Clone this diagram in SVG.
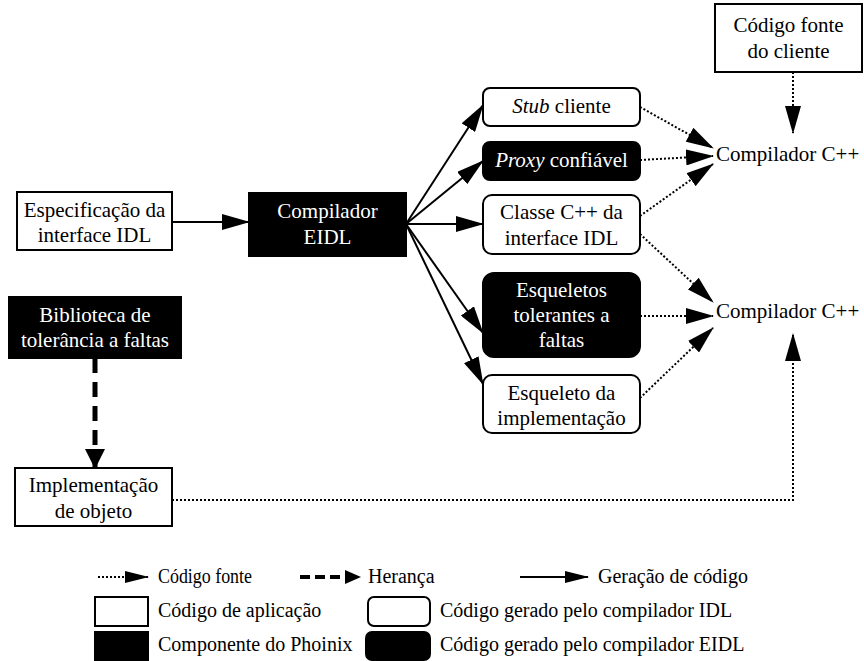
<svg xmlns="http://www.w3.org/2000/svg" width="864" height="661" viewBox="0 0 864 661">
  <style>
    text { font-family: "Liberation Serif", "DejaVu Serif", "Times New Roman", serif; font-size: 21px; fill: #000; }
    .c { text-anchor: middle; }
    .w { fill: #fff; }
    .lg { font-size: 20px; }
    .box { fill: #fff; stroke: #000; stroke-width: 2; }
    .dark { fill: #000; stroke: #000; stroke-width: 2; }
    .gen { fill: none; stroke: #000; stroke-width: 2; }
    .src { fill: none; stroke: #000; stroke-width: 2; stroke-dasharray: 2 2; }
    .inh { fill: none; stroke: #000; stroke-width: 5; stroke-dasharray: 15 9; }
  </style>
  <defs>
    <marker id="ah" markerUnits="userSpaceOnUse" markerWidth="28" markerHeight="16" refX="27" refY="8" orient="auto">
      <path d="M0,0 L28,8 L0,16 z" fill="#000"/>
    </marker>
    <marker id="ahi" markerUnits="userSpaceOnUse" markerWidth="20" markerHeight="20" refX="19" refY="10" orient="auto">
      <path d="M0,0 L20,10 L0,20 z" fill="#000"/>
    </marker>
    <marker id="ahs" markerUnits="userSpaceOnUse" markerWidth="24" markerHeight="12" refX="23" refY="6" orient="auto">
      <path d="M0,0 L24,6 L0,12 z" fill="#000"/>
    </marker>
    <marker id="ahd" markerUnits="userSpaceOnUse" markerWidth="16" markerHeight="14" refX="15" refY="7" orient="auto">
      <path d="M0,0 L16,7 L0,14 z" fill="#000"/>
    </marker>
  </defs>

  <!-- connectors -->
  <g id="connectors">
    <path class="gen" d="M172,222 H249" marker-end="url(#ah)"/>
    <path class="gen" d="M406,224 L483,105" marker-end="url(#ah)"/>
    <path class="gen" d="M406,224 L483,161" marker-end="url(#ah)"/>
    <path class="gen" d="M406,224 H483" marker-end="url(#ah)"/>
    <path class="gen" d="M406,224 L483,333" marker-end="url(#ah)"/>
    <path class="gen" d="M406,224 L483,384" marker-end="url(#ah)"/>

    <path class="src" d="M640,107 L713,148" marker-end="url(#ah)"/>
    <path class="src" d="M640,160 L713,156" marker-end="url(#ah)"/>
    <path class="src" d="M640,216 L713,164" marker-end="url(#ah)"/>
    <path class="src" d="M640,234 L713,302" marker-end="url(#ah)"/>
    <path class="src" d="M640,316 L713,316" marker-end="url(#ah)"/>
    <path class="src" d="M640,398 L713,328" marker-end="url(#ah)"/>
    <path class="src" d="M793,72 V133" marker-end="url(#ah)"/>
    <path class="src" d="M172,500 H793 V334" marker-end="url(#ah)"/>

    <path class="inh" d="M95,358 V468" marker-end="url(#ahi)"/>
  </g>

  <!-- application code -->
  <g id="spec">
    <rect class="box" x="17" y="192" width="155" height="58"/>
    <text class="c" x="94.5" y="217">Especificação da</text>
    <text class="c" x="94.5" y="242">interface IDL</text>
  </g>
  <g id="impl">
    <rect class="box" x="15" y="468" width="157" height="58"/>
    <text class="c" x="93.5" y="492">Implementação</text>
    <text class="c" x="93.5" y="518">de objeto</text>
  </g>
  <g id="clientsrc">
    <rect class="box" x="715" y="4" width="147" height="68"/>
    <text class="c" x="788.5" y="32">Código fonte</text>
    <text class="c" x="788.5" y="58">do cliente</text>
  </g>

  <!-- Phoinix components -->
  <g id="eidl">
    <rect class="dark" x="249" y="193" width="157" height="63"/>
    <text class="c w" x="327.5" y="218">Compilador</text>
    <text class="c w" x="327.5" y="244">EIDL</text>
  </g>
  <g id="lib">
    <rect class="dark" x="9" y="297" width="172" height="61"/>
    <text class="c w" x="95" y="322">Biblioteca de</text>
    <text class="c w" x="95" y="347">tolerância a faltas</text>
  </g>

  <!-- IDL-generated code -->
  <g id="stub">
    <rect class="box" x="483" y="88" width="157" height="38" rx="7"/>
    <text class="c" x="561.5" y="113"><tspan font-style="italic">Stub</tspan> cliente</text>
  </g>
  <g id="cppclass">
    <rect class="box" x="483" y="195" width="157" height="59" rx="9"/>
    <text class="c" x="561.5" y="219">Classe C++ da</text>
    <text class="c" x="561.5" y="245">interface IDL</text>
  </g>
  <g id="skeleton">
    <rect class="box" x="483" y="375" width="157" height="58" rx="9"/>
    <text class="c" x="561.5" y="400">Esqueleto da</text>
    <text class="c" x="561.5" y="425">implementação</text>
  </g>

  <!-- EIDL-generated code -->
  <g id="proxy">
    <rect class="dark" x="483" y="142" width="157" height="38" rx="7"/>
    <text class="c w" x="561.5" y="167"><tspan font-style="italic">Proxy</tspan> confiável</text>
  </g>
  <g id="ftskel">
    <rect class="dark" x="483" y="273" width="157" height="84" rx="11"/>
    <text class="c w" x="561.5" y="297">Esqueletos</text>
    <text class="c w" x="561.5" y="322">tolerantes a</text>
    <text class="c w" x="561.5" y="347">faltas</text>
  </g>

  <!-- compilers -->
  <g id="cc1">
    <text x="716" y="161">Compilador C++</text>
  </g>
  <g id="cc2">
    <text x="716" y="318">Compilador C++</text>
  </g>

  <!-- legend -->
  <g id="legend">
    <path class="src" d="M98,577 H148" marker-end="url(#ahs)"/>
    <text class="lg" x="158" y="583" textLength="94" lengthAdjust="spacingAndGlyphs">Código fonte</text>
    <path class="inh" style="stroke-width:4;stroke-dasharray:10 5" d="M300,577 H360" marker-end="url(#ahd)"/>
    <text class="lg" x="368" y="583">Herança</text>
    <path class="gen" d="M520,577 H588" marker-end="url(#ahs)"/>
    <text class="lg" x="598" y="583">Geração de código</text>

    <rect class="box" x="95" y="597" width="53" height="29"/>
    <text class="lg" x="158" y="617">Código de aplicação</text>
    <rect class="box" x="368" y="597" width="62" height="29" rx="6"/>
    <text class="lg" x="440" y="617">Código gerado pelo compilador IDL</text>

    <rect class="dark" x="95" y="632" width="53" height="28"/>
    <text class="lg" x="158" y="651">Componente do Phoinix</text>
    <rect class="dark" x="366" y="632" width="64" height="28" rx="6"/>
    <text class="lg" x="440" y="651">Código gerado pelo compilador EIDL</text>
  </g>
</svg>
